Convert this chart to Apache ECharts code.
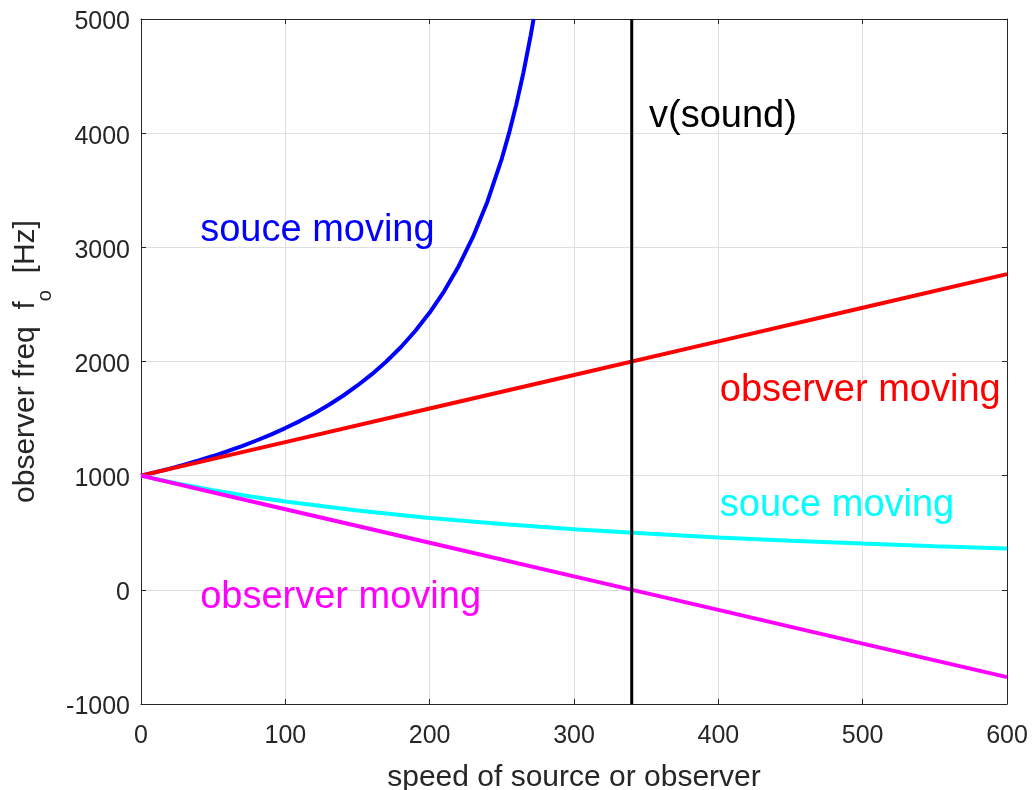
<!DOCTYPE html>
<html>
<head>
<meta charset="utf-8">
<script src="https://cdn.jsdelivr.net/npm/echarts@6/dist/echarts.min.js"></script>
<style>html,body{margin:0;padding:0;background:#fff}#c{width:1034px;height:790px}</style>
</head>
<body>
<div id="c"></div>
<script>
// speed values (x) and observer frequency values (y)
const blueX = [0,10,20,30,40,50,60,70,80,90,100,110,120,130,140,150,160,170,180,190,200,210,220,230,240,250,255,260,265,270,272];
const blueY = [1000,1030,1062,1097,1133,1172,1214,1259,1308,1360,1417,1478,1545,1619,1700,1790,1889,2000,2125,2267,2429,2615,2833,3091,3400,3778,4000,4250,4533,4857,5000];
const redX = [0,100,200,300,400,500,600];
const redY = [1000,1294,1588,1882,2176,2471,2765];
const cyanX = [0,25,50,75,100,150,200,250,300,350,400,450,500,550,600];
const cyanY = [1000,931,872,819,773,694,630,576,531,493,459,430,405,382,362];
const magX = [0,100,200,300,400,500,600];
const magY = [1000,706,412,118,-176,-471,-765];
const soundX = [340,340];
const soundY = [-1000,5000];
const xTicks = [0,100,200,300,400,500,600];
const yTicks = [-1000,0,1000,2000,3000,4000,5000];
const notes = [
  {text:'souce moving', x:41, y:3150, color:'#0000ff'},
  {text:'v(sound)', x:352, y:4145, color:'#000000'},
  {text:'observer moving', x:401, y:1750, color:'#ff0000'},
  {text:'souce moving', x:401, y:742, color:'#00ffff'},
  {text:'observer moving', x:41, y:-70, color:'#ff00ff'}
];

const zip = (xs, ys) => xs.map((x,i)=>[x, ys[i]]);
const FONT = 'Liberation Sans, Arial, sans-serif';
const AX = '#262626';

const chart = echarts.init(document.getElementById('c'));
const lineSeries = (name, data, color, w) => ({
  type:'line', name, data, showSymbol:false, symbol:'none',
  lineStyle:{color, width:w}, itemStyle:{color}, animation:false, clip:true, z:3
});
const frameAxis = (pos, min, max, interval) => ({
  type:'value', position:pos, min, max, interval,
  axisLine:{show:true, onZero:false, lineStyle:{color:AX, width:1}},
  axisTick:{show:true, inside:true, length:5, lineStyle:{color:AX}},
  axisLabel:{show:false}, splitLine:{show:false}
});
chart.setOption({
  animation:false,
  grid:{left:141, right:27, top:19, bottom:86, containLabel:false, outerBoundsMode:'none'},
  xAxis:[
    {type:'value', position:'bottom', min:xTicks[0], max:xTicks[xTicks.length-1], interval:100,
     axisLine:{show:true, onZero:false, lineStyle:{color:AX, width:1}},
     axisTick:{show:true, inside:true, length:5, lineStyle:{color:AX}},
     splitLine:{show:true, lineStyle:{color:'#dfdfdf', width:1}},
     axisLabel:{color:AX, fontSize:25, fontFamily:FONT, margin:20, formatter:v=>String(v)},
     name:'speed of source or observer', nameLocation:'middle', nameGap:59,
     nameTextStyle:{color:AX, fontSize:30, fontFamily:FONT}},
    frameAxis('top', 0, 600, 100)
  ],
  yAxis:[
    {type:'value', position:'left', min:yTicks[0], max:yTicks[yTicks.length-1], interval:1000,
     axisLine:{show:true, onZero:false, lineStyle:{color:AX, width:1}},
     axisTick:{show:true, inside:true, length:5, lineStyle:{color:AX}},
     splitLine:{show:true, lineStyle:{color:'#dfdfdf', width:1}},
     axisLabel:{color:AX, fontSize:25, fontFamily:FONT, margin:11, formatter:v=>'{t|'+v+'}',
       rich:{t:{fontSize:25, color:AX, fontFamily:FONT, padding:[7,0,0,0]}}},
     name:'{n|observer freq  f}{s|o}{n|  [Hz]}', nameLocation:'middle', nameGap:96, nameRotate:90,
     nameTextStyle:{color:AX, fontSize:30, fontFamily:FONT,
       rich:{n:{fontSize:30, color:AX, fontFamily:FONT, verticalAlign:'top', lineHeight:34},
             s:{fontSize:20, color:AX, fontFamily:FONT, verticalAlign:'top', lineHeight:20, padding:[24,0,0,0]}}}},
    frameAxis('right', -1000, 5000, 1000)
  ],
  series:[
    lineSeries('blue', zip(blueX, blueY), '#0000ff', 4),
    lineSeries('red', zip(redX, redY), '#ff0000', 4),
    lineSeries('cyan', zip(cyanX, cyanY), '#00ffff', 4),
    lineSeries('magenta', zip(magX, magY), '#ff00ff', 4),
    lineSeries('sound', zip(soundX, soundY), '#000000', 3),
    {type:'scatter', symbolSize:0, animation:false, z:5, silent:true, itemStyle:{opacity:1},
     data: notes.map(n=>({value:[n.x,n.y], itemStyle:{opacity:1}, label:{show:true, position:'right', distance:0, opacity:1,
       formatter:n.text, color:n.color, fontSize:38, fontFamily:FONT}}))}
  ]
});
</script>
</body>
</html>
